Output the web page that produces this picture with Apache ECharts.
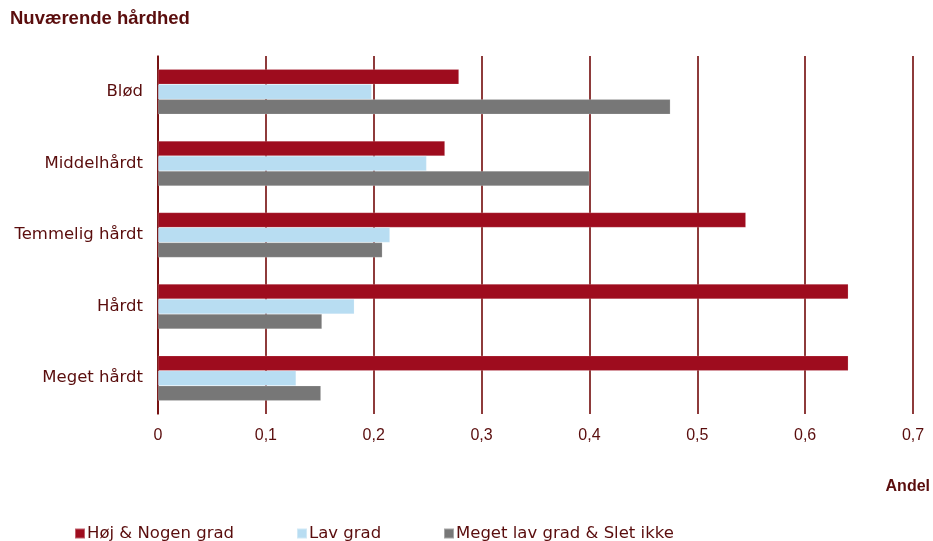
<!DOCTYPE html>
<html>
<head>
<meta charset="utf-8">
<script src="https://cdn.jsdelivr.net/npm/echarts@6/dist/echarts.min.js"></script>
<style>
  html, body { margin: 0; padding: 0; background: #ffffff; }
  #chart { width: 933px; height: 541px; }
</style>
</head>
<body>
<div id="chart"></div>
<script>
// Hardness categories (top to bottom)
const categories = ['Blød', 'Middelhårdt', 'Temmelig hårdt', 'Hårdt', 'Meget hårdt'];

// Share of answers per hardness level
const hoejNogen = [0.279, 0.266, 0.545, 0.640, 0.640];
const lavGrad = [0.198, 0.249, 0.215, 0.182, 0.128];
const megetLavSletIkke = [0.475, 0.400, 0.208, 0.152, 0.151];

const seriesNames = ['Høj & Nogen grad', 'Lav grad', 'Meget lav grad & Slet ikke'];
const xTicks = [0, 0.1, 0.2, 0.3, 0.4, 0.5, 0.6, 0.7];

const textColor = '#5a0d0d';
const gridColor = '#720a0a';
const fontFamily = '"Liberation Sans", Arial, sans-serif';
const wideFont = '"DejaVu Sans", "Liberation Sans", sans-serif';
const colors = ['#9e0c1e', '#b8ddf2', '#777777'];

const chart = echarts.init(document.getElementById('chart'), null, { renderer: 'canvas' });

const values = [hoejNogen, lavGrad, megetLavSletIkke];

function legendAt(name, left) {
  return {
    data: [name],
    left: left,
    top: 525,
    icon: 'rect',
    itemWidth: 10,
    itemHeight: 10,
    itemGap: 0,
    padding: 0,
    textStyle: { color: textColor, fontSize: 16.5, fontFamily: wideFont, padding: [0, 0, 0, -3] },
    selectedMode: false
  };
}

chart.setOption({
  animation: false,
  backgroundColor: '#ffffff',
  title: {
    text: 'Nuværende hårdhed',
    left: 10,
    top: 9,
    padding: 0,
    textStyle: { color: textColor, fontSize: 18.5, fontWeight: 'bold', fontFamily: fontFamily }
  },
  legend: [
    legendAt(seriesNames[0], 74),
    legendAt(seriesNames[1], 296),
    legendAt(seriesNames[2], 443)
  ],
  grid: { left: 158, right: 20, top: 56, bottom: 127, containLabel: false },
  xAxis: {
    type: 'value',
    min: 0,
    max: 0.7,
    interval: 0.1,
    axisLine: { show: false },
    axisTick: { show: false },
    splitLine: { show: true, lineStyle: { color: gridColor, width: 1.6 } },
    axisLabel: {
      color: textColor,
      fontSize: 16,
      fontFamily: fontFamily,
      margin: 14,
      customValues: xTicks,
      formatter: v => (v === 0 ? '0' : v.toFixed(1).replace('.', ','))
    }
  },
  yAxis: {
    type: 'category',
    data: categories,
    inverse: true,
    axisLine: { show: true, lineStyle: { color: gridColor, width: 1.6 } },
    axisTick: { show: false },
    axisLabel: { color: textColor, fontSize: 16.5, fontFamily: wideFont, margin: 15 }
  },
  graphic: [{
    type: 'text',
    right: 3,
    top: 479,
    style: {
      text: 'Andel',
      fill: textColor,
      font: 'bold 16px "Liberation Sans", Arial, sans-serif'
    }
  }],
  series: seriesNames.map((name, i) => ({
    name: name,
    type: 'bar',
    data: values[i],
    barWidth: 15,
    barGap: '0%',
    itemStyle: { color: colors[i], borderColor: 'rgba(255,255,255,0.35)', borderWidth: 0.5 }
  }))
});
</script>
</body>
</html>
